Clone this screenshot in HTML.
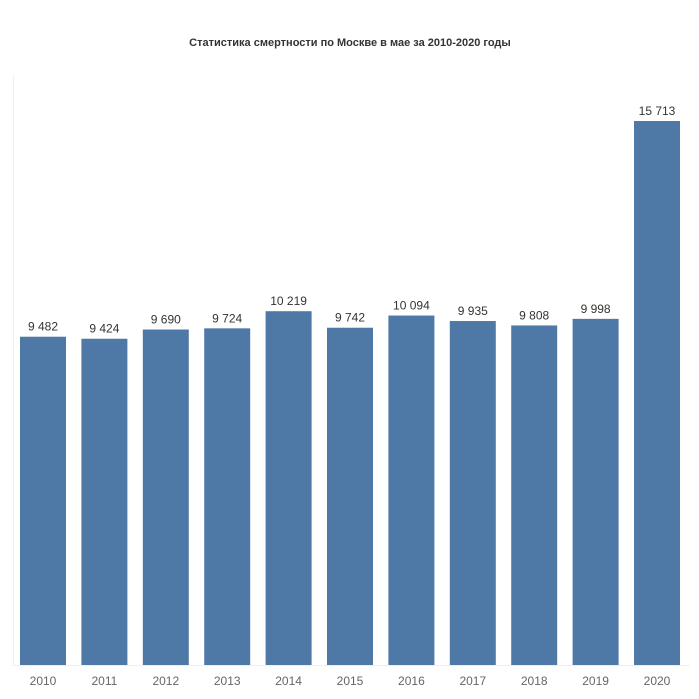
<!DOCTYPE html>
<html><head><meta charset="utf-8"><style>
body{margin:0;background:#fff;}
svg{display:block;font-family:"Liberation Sans",sans-serif;}
</style></head><body>
<svg id="chart" width="699" height="699">
<text x="350" y="46" text-anchor="middle" font-size="11" font-weight="bold" fill="#333">Статистика смертности по Москве в мае за 2010-2020 годы</text>
<line x1="13.5" y1="75" x2="13.5" y2="665" stroke="#f0f0f0"/>
<line x1="13" y1="665.5" x2="690" y2="665.5" stroke="#f3f0e0"/>
<g id="bars"></g>
</svg>
<script>
const categories=["2010","2011","2012","2013","2014","2015","2016","2017","2018","2019","2020"];
const values=[9482,9424,9690,9724,10219,9742,10094,9935,9808,9998,15713];
const valueLabels=["9 482","9 424","9 690","9 724","10 219","9 742","10 094","9 935","9 808","9 998","15 713"];
const base=665, top0=121, x0=20, step=61.4, bw=46;
const maxV=15713;
function y(v){return base-(v/maxV)*(base-top0);}
function x(i){return x0+i*step;}
const g=document.getElementById('bars');
const ns="http://www.w3.org/2000/svg";
values.forEach((v,i)=>{
  const r=document.createElementNS(ns,'rect');
  r.setAttribute('x',x(i));r.setAttribute('y',y(v));
  r.setAttribute('width',bw);r.setAttribute('height',base-y(v));
  r.setAttribute('fill','#4e79a7');
  
  
  g.appendChild(r);
  const t=document.createElementNS(ns,'text');
  t.setAttribute('x',x(i)+bw/2);t.setAttribute('y',y(v)-6);
  t.setAttribute('text-anchor','middle');t.setAttribute('font-size','12');t.setAttribute('fill','#333');
  t.textContent=valueLabels[i];
  
  
  g.appendChild(t);
  const c=document.createElementNS(ns,'text');
  c.setAttribute('x',x(i)+bw/2);c.setAttribute('y',685);
  c.setAttribute('text-anchor','middle');c.setAttribute('font-size','12');c.setAttribute('fill','#666');
  c.textContent=categories[i];
  
  
  g.appendChild(c);
});
</script>
</body></html>
